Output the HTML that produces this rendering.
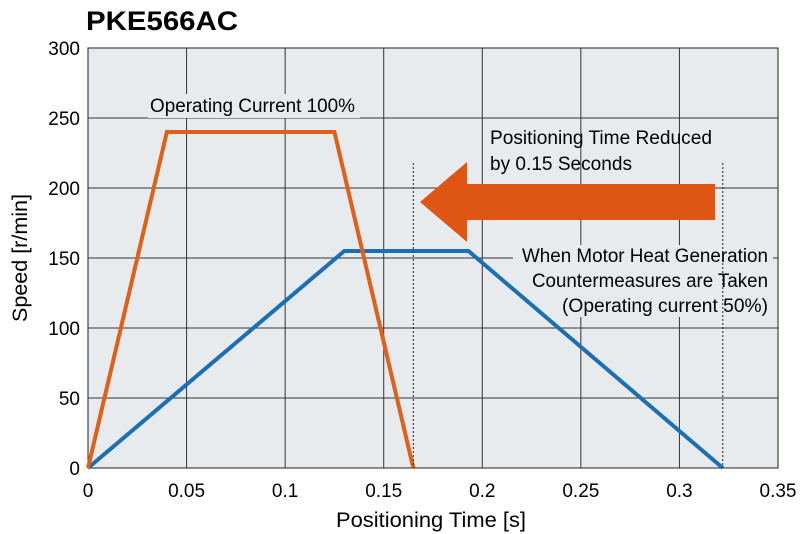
<!DOCTYPE html>
<html><head><meta charset="utf-8"><style>
html,body{margin:0;padding:0;background:#fff;}
svg{display:block;font-family:"Liberation Sans",sans-serif;}
</style></head><body>
<svg id="chart" width="800" height="534" viewBox="0 0 800 534">
<text x="86" y="30" font-size="27" font-weight="bold" textLength="152" lengthAdjust="spacingAndGlyphs">PKE566AC</text>
<rect x="88" y="48" width="690" height="420" fill="#e8ebee" stroke="#222" stroke-width="1"/>
<g id="grid"></g>
<g id="ticks"></g>
<g id="series"></g>
<g id="annot"></g>
<text x="431" y="527" font-size="21" text-anchor="middle" textLength="190" lengthAdjust="spacingAndGlyphs">Positioning Time [s]</text>
<text transform="translate(27,258) rotate(-90)" font-size="21" text-anchor="middle" textLength="128" lengthAdjust="spacingAndGlyphs">Speed [r/min]</text>
</svg>
<script>
const xTicks=[0,0.05,0.1,0.15,0.2,0.25,0.3,0.35];
const xTickLabels=["0","0.05","0.1","0.15","0.2","0.25","0.3","0.35"];
const yTicks=[0,50,100,150,200,250,300];
const yTickLabels=["0","50","100","150","200","250","300"];
const orangeT=[0,0.04,0.125,0.165];
const orangeV=[0,240,240,0];
const blueT=[0,0.13,0.193,0.322];
const blueV=[0,155,155,0];
const NS="http://www.w3.org/2000/svg";
const X=t=>88+t/0.35*690, Y=v=>468-v/300*420;
function mk(tag,attrs,parent){const e=document.createElementNS(NS,tag);for(const k in attrs)e.setAttribute(k,attrs[k]);document.getElementById(parent).appendChild(e);return e;}
xTicks.forEach((t,i)=>{
 if(i>0&&i<xTicks.length-1){const l=mk('line',{x1:X(t),x2:X(t),y1:48,y2:468,stroke:'#333','stroke-width':1},'grid');
 
 }
 const tx=mk('text',{x:X(t),y:497,'font-size':19,'text-anchor':'middle'},'ticks');tx.textContent=xTickLabels[i];
 
 
});
yTicks.forEach((v,i)=>{
 if(i>0&&i<yTicks.length-1){const l=mk('line',{x1:88,x2:778,y1:Y(v),y2:Y(v),stroke:'#333','stroke-width':1},'grid');
 
 }
 const tx=mk('text',{x:80,y:Y(v)+7,'font-size':19,'text-anchor':'end'},'ticks');tx.textContent=yTickLabels[i];
 
 
});
// label masks
const annot=[["Operating Current 100%",254,112,205,121,null],
["Positioning Time Reduced",490,144,222,0,null],["by 0.15 Seconds",490,170,142,0,null],
["When Motor Heat Generation",768,262,246,0,'end'],["Countermeasures are Taken",768,287,236,0,'end'],["(Operating current 50%)",768,312,206,0,'end']];
mk('rect',{x:148,y:94,width:212,height:24,fill:'#e8ebee'},'grid');
mk('rect',{x:513,y:245,width:260,height:72,fill:'#e8ebee'},'grid');
// dotted lines
[0.165,0.322].forEach(t=>{const l=mk('line',{x1:X(t),x2:X(t),y1:163,y2:468,stroke:'#222','stroke-width':1,'stroke-dasharray':'2,2'},'annot');

});
function line(ts,vs,col,name){const p=mk('polyline',{points:ts.map((t,i)=>X(t)+','+Y(vs[i])).join(' '),fill:'none',stroke:col,'stroke-width':4,'stroke-linejoin':'miter'},'series');

}
line(blueT,blueV,'#1a6fb5','line-current-50');
line(orangeT,orangeV,'#e0601a','line-current-100');
const ar=mk('polygon',{points:'420,202 467,162 467,184 715,184 715,220 467,220 467,242',fill:'#de5514'},'annot');


annot.forEach(a=>{const t=mk('text',{x:a[1],y:a[2],'font-size':19,textLength:a[3],lengthAdjust:'spacingAndGlyphs'},'annot');
if(a[5])t.setAttribute('text-anchor','end');
if(a[0].startsWith('Operating C'))t.setAttribute('x',150);
t.textContent=a[0];

});
</script>
</body></html>
